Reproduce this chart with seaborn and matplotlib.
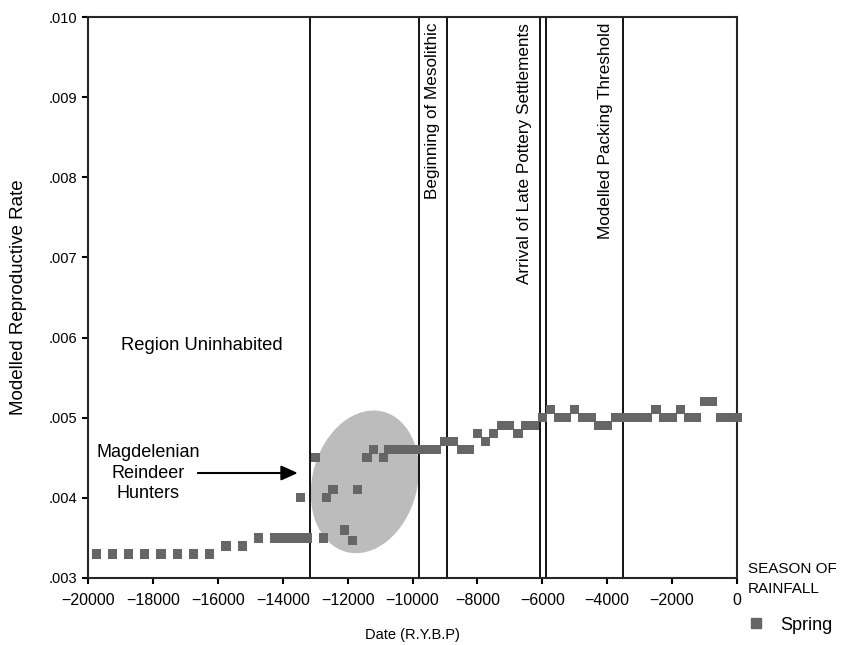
import matplotlib
matplotlib.use("Agg")
import matplotlib.pyplot as plt
import pandas as pd
import seaborn as sns
from matplotlib.patches import Ellipse
from matplotlib.transforms import ScaledTranslation
from matplotlib.lines import Line2D

# Data (years before present, modelled reproductive rate)
years = [-19750, -19250, -18750, -18250, -17750, -17250, -16750, -16250,
         -15750, -15250,
         -14750, -14250, -14000, -13750, -13500, -13250, -12750,
         -13450, -13000, -12650, -12450, -12100, -11850, -11700,
         -11400, -11200, -10900, -10750,
         -10500, -10250, -10000, -9750, -9500, -9250,
         -9000, -8750, -8500, -8250, -8000, -7750, -7500, -7250, -7000,
         -6750, -6500, -6250, -6000, -5750, -5500, -5250, -5000, -4750,
         -4500, -4250, -4000, -3750, -3500, -3250, -3000, -2750, -2500,
         -2250, -2000, -1750, -1500, -1250, -1000, -750, -500, -250, 0]
rates = [.0033, .0033, .0033, .0033, .0033, .0033, .0033, .0033,
         .0034, .0034,
         .0035, .0035, .0035, .0035, .0035, .0035, .0035,
         .0040, .0045, .0040, .0041, .0036, .00347, .0041,
         .0045, .0046, .0045, .0046,
         .0046, .0046, .0046, .0046, .0046, .0046,
         .0047, .0047, .0046, .0046, .0048, .0047, .0048, .0049, .0049,
         .0048, .0049, .0049, .0050, .0051, .0050, .0050, .0051, .0050,
         .0050, .0049, .0049, .0050, .0050, .0050, .0050, .0050, .0051,
         .0050, .0050, .0051, .0050, .0050, .0052, .0052, .0050, .0050, .0050]

event_years = [-13150, -9800, -8950, -6080, -5890, -3500]
event_labels = ["Beginning of Mesolithic", "Arrival of Late Pottery Settlements",
                "Modelled Packing Threshold"]
event_label_x = [-9380, -6560, -4060]

df = pd.DataFrame({"Date": years, "Rate": rates, "Season": "Spring"})

sns.set_style("ticks")
plt.rcParams["font.family"] = ["Liberation Sans", "DejaVu Sans"]
plt.rcParams["text.color"] = "black"
plt.rcParams["axes.labelcolor"] = "black"
plt.rcParams["xtick.color"] = "black"
plt.rcParams["ytick.color"] = "black"

fig = plt.figure(figsize=(8.57, 6.45), dpi=100)
ax = fig.add_axes([0.1027, 0.1039, 0.7573, 0.8697])

# shaded ellipse around Magdelenian period
trans = fig.dpi_scale_trans + ScaledTranslation(-11470, 0.0042, ax.transData)
ax.add_patch(Ellipse((0, 0), width=1.45, height=1.05, angle=75,
                     transform=trans, facecolor="#bcbcbc", edgecolor="none", zorder=1))

sns.scatterplot(data=df, x="Date", y="Rate", marker="s", s=44, color="#666666",
                edgecolor="none", linewidth=0, ax=ax, zorder=3, legend=False,
                clip_on=False)

for xv in event_years:
    ax.axvline(xv, color="black", lw=1.3, zorder=2)

for lab, xv in zip(event_labels, event_label_x):
    ax.text(xv, 0.00993, lab, rotation=90, ha="center", va="top", fontsize=12.3)

ax.text(-16500, 0.0059, "Region Uninhabited", ha="center", va="center", fontsize=13.2)
ax.text(-18150, 0.00431, "Magdelenian\nReindeer\nHunters", ha="center", va="center",
        fontsize=13, linespacing=1.3)
ax.annotate("", xy=(-13450, 0.00431), xytext=(-16700, 0.00431),
            arrowprops=dict(arrowstyle="-|>,head_length=1.0,head_width=0.45",
                            color="black", lw=1.5))

ax.set_xlim(-20000, 0)
ax.set_ylim(0.003, 0.010)
ax.set_xticks(range(-20000, 1, 2000))
ax.set_xticklabels(["\u2212%d" % abs(v) if v < 0 else "0" for v in range(-20000, 1, 2000)])
ax.set_yticks([0.003, 0.004, 0.005, 0.006, 0.007, 0.008, 0.009, 0.010])
ax.set_yticklabels([".003", ".004", ".005", ".006", ".007", ".008", ".009", ".010"])
ax.tick_params(axis="both", length=4, width=1.5, direction="out")
ax.tick_params(axis="x", labelsize=11.5, pad=7)
ax.tick_params(axis="y", labelsize=10.5)
for sp in ax.spines.values():
    sp.set_visible(True)
    sp.set_linewidth(1.5)
ax.set_xlabel("Date (R.Y.B.P)", fontsize=10.5, labelpad=14)
ax.set_ylabel("Modelled Reproductive Rate", fontsize=13.5, labelpad=16)

fig.text(748 / 857, 1 - 579 / 645, "SEASON OF\nRAINFALL", fontsize=11,
         ha="left", va="center", linespacing=1.5)
handle = Line2D([], [], marker="s", color="#666666", linestyle="none", markersize=7)
leg = fig.legend([handle], ["Spring"], loc="center left",
                 bbox_to_anchor=(740 / 857, 1 - 625 / 645), frameon=False, fontsize=13,
                 handletextpad=0.8, handlelength=1.0, borderaxespad=0)

plt.savefig("out.png", dpi=100)
